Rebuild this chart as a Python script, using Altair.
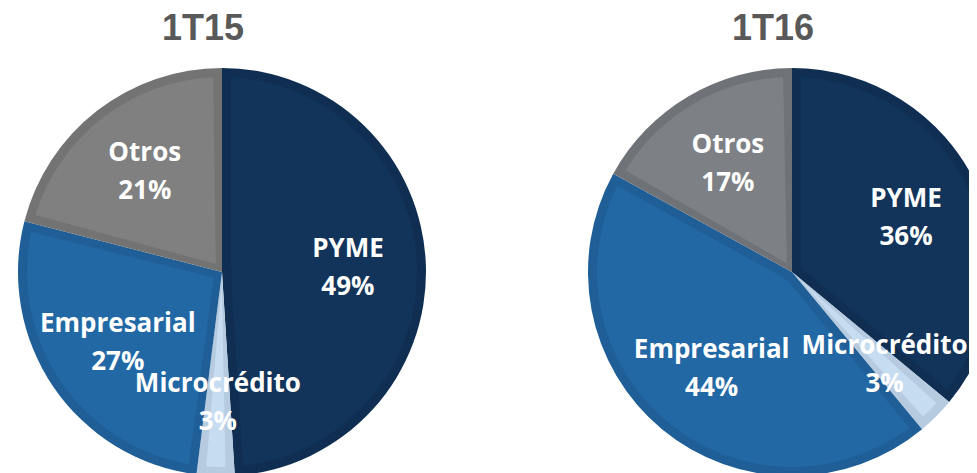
import altair as alt
import pandas as pd

# ---- data ----
periods = ["1T15", "1T16"]
categories = ["PYME", "Microcrédito", "Empresarial", "Otros"]
share_1t15 = [49, 3, 27, 21]
share_1t16 = [36, 3, 44, 17]

# ---- styles ----
fill_1t15 = ["#12345A", "#C6DCF0", "#2268A5", "#808080"]
band_1t15 = ["#0F2E51", "#B6CBDF", "#1F5E96", "#737373"]
fill_1t16 = ["#12345A", "#C6DCF0", "#2268A5", "#7D8085"]
band_1t16 = ["#0F2E51", "#B6CBDF", "#1F5E96", "#6F7277"]

rows = []
for period, shares, fills, bands in [
    (periods[0], share_1t15, fill_1t15, band_1t15),
    (periods[1], share_1t16, fill_1t16, band_1t16),
]:
    for i, (c, s, f, b) in enumerate(zip(categories, shares, fills, bands)):
        rows.append({"period": period, "cat": c, "share": s, "idx": i,
                     "fillc": f, "bandc": b})
df = pd.DataFrame(rows)
df["label"] = df["cat"] + "\n" + df["share"].astype(str) + "%"
titles_df = pd.DataFrame({"period": periods})

x_enc = alt.X("period:N", axis=None,
              scale=alt.Scale(type="point", domain=periods, range=[214, 784], padding=0))
theta_scale = alt.Scale(domain=[0, 100])

base = alt.Chart(df).transform_window(
    end="sum(share)", groupby=["period"], sort=[alt.SortField("idx")], frame=[None, 0]
).transform_calculate(
    start="datum.end - datum.share",
    mid="datum.end - datum.share / 2",
    # thin slices get their label pushed a little further out
    lr="datum.share < 5 ? 131 : 126",
)

band = base.mark_arc(radius=204, clip=True).encode(
    x=x_enc,
    theta=alt.Theta("start:Q", scale=theta_scale),
    theta2="end:Q",
    color=alt.Color("bandc:N", scale=None),
)
fill = base.mark_arc(radius=195, radius2=10, padAngle=0.09, clip=True).encode(
    x=x_enc,
    theta=alt.Theta("start:Q", scale=theta_scale),
    theta2="end:Q",
    color=alt.Color("fillc:N", scale=None),
)
labels = base.mark_text(
    font="Open Sans", fontWeight="bold", fontSize=26,
    lineBreak="\n", lineHeight=38, color="white", baseline="middle",
    dy=-19, clip=True,
).encode(
    x=x_enc,
    theta=alt.Theta("mid:Q", scale=theta_scale),
    radius=alt.Radius("lr:Q", scale=None),
    text="label:N",
)
titles = alt.Chart(titles_df).mark_text(
    font="Liberation Sans", fontWeight="bold", fontSize=36, color="#595959",
    baseline="middle", dx=-19,
).encode(x=x_enc, y=alt.value(21), text="period:N")

chart = alt.layer(band, fill, labels, titles).properties(
    width=961, height=528, padding=0
).configure(background="white", view=alt.ViewConfig(stroke=None))

chart.save("out.html", embed_options={"renderer": "svg", "actions": False})
